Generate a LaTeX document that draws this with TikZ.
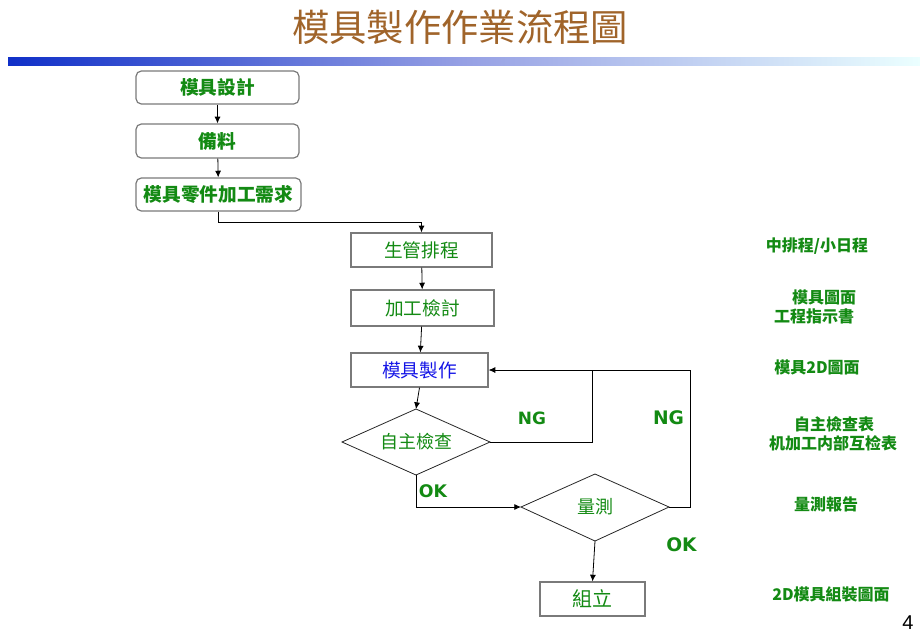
\documentclass[tikz,border=0pt]{standalone}
\usepackage{fontspec}
\setmainfont{DejaVu Sans}
\newfontfamily\cjk{Noto Sans CJK TC}
\newfontfamily\lat{DejaVu Sans}
\newfontfamily\numf{Liberation Sans}
\usetikzlibrary{shapes.geometric,arrows.meta}
\definecolor{tgreen}{HTML}{138A13}
\definecolor{tblue}{HTML}{1414E6}
\definecolor{tbrown}{HTML}{A0642A}
\definecolor{bordergray}{HTML}{7A7A7A}
\tikzset{
  rbox/.style={draw=bordergray, line width=0.9pt, rounded corners=4pt, inner sep=0pt, font=\cjk\fontsize{14}{16}\selectfont\bfseries, text=tgreen},
  sbox/.style={draw=bordergray, line width=0.9pt, inner sep=0pt, font=\cjk\fontsize{14}{16}\selectfont, text=tgreen},
  dtext/.style={inner sep=0pt, font=\cjk\fontsize{13.5}{16}\selectfont, text=tgreen},
  dline/.style={draw=black!85, line width=0.6pt},
  arr/.style={draw=black, line width=0.6pt, -{Latex[length=5pt,width=4.5pt]}},
  lnk/.style={draw=black, line width=0.6pt},
  side/.style={font=\cjk\fontsize{12}{14.5}\selectfont\bfseries, text=tgreen, align=center},
  ngok/.style={font=\lat\bfseries, text=tgreen}
}
\begin{document}
\begin{tikzpicture}[x=0.75pt,y=-0.75pt]
\useasboundingbox (0,0) rectangle (920,637);
% title
\node[font=\cjk\fontsize{28}{32}\selectfont, text=tbrown] (title) at (460,27) {模具製作作業流程圖};
% gradient bar
\shade[left color={rgb,255:red,16;green,48;blue,200}, right color={rgb,255:red,235;green,255;blue,255}, middle color={rgb,255:red,150;green,160;blue,228}] (8,57) rectangle (920,65);
% boxes
\node[rbox, minimum width=122.25pt, minimum height=24.75pt] (b1) at (217.5,87.5) {模具設計};
\node[rbox, minimum width=122.25pt, minimum height=25.5pt] (b2) at (217.5,141) {備料};
\node[rbox, minimum width=123.75pt, minimum height=24.75pt] (b3) at (218.5,194.5) {模具零件加工需求};
\node[sbox, minimum width=105.75pt, minimum height=25.5pt] (b4) at (421.5,250) {生管排程};
\node[sbox, minimum width=107.25pt, minimum height=27pt] (b5) at (422.5,308) {加工檢討};
\node[sbox, minimum width=102.75pt, minimum height=25.5pt, text=tblue] (b6) at (419.5,370) {模具製作};
% diamond 1
\node[dtext] (d1) at (416,442) {自主檢查};
\coordinate (d1n) at (416,409);
\coordinate (d1e) at (490,442);
\coordinate (d1s) at (416,475);
\coordinate (d1w) at (342,442);
\draw[dline] (d1n) -- (d1e) -- (d1s) -- (d1w) -- cycle;
% diamond 2
\node[dtext] (d2) at (595,507) {量測};
\coordinate (d2n) at (595,474);
\coordinate (d2e) at (669,507);
\coordinate (d2s) at (595,541);
\coordinate (d2w) at (521,507);
\draw[dline] (d2n) -- (d2e) -- (d2s) -- (d2w) -- cycle;
\node[sbox, minimum width=78.75pt, minimum height=25.5pt, font=\cjk\fontsize{15}{17}\selectfont] (b7) at (592.5,599) {組立};
% connectors
\draw[arr] (b1) -- (b2);
\draw[arr] (b2) -- (b3);
\coordinate (k1) at (218.5,222);
\draw[arr] (b3.south) -- (k1) -| (b4.north);
\draw[arr] (b4) -- (b5);
\draw[arr] (b5) -- (b6);
\draw[arr] (b6.south) -- (d1n);
\coordinate (ng1) at (592,370);
\coordinate (ng2) at (690,370);
\draw[lnk] (d1e) -| (ng1);
\draw[lnk] (d2e) -| (ng2);
\draw[arr] (ng2) -- (b6.east);
\draw[arr] (d1s) |- (d2w);
\draw[arr] (d2s) -- (b7.north);
% NG / OK labels
\node[ngok, font=\lat\bfseries\fontsize{12.7}{14}\selectfont] (ngA) at (532,418) {NG};
\node[ngok, font=\lat\bfseries\fontsize{14}{16}\selectfont] (ngB) at (668.5,418) {NG};
\node[ngok, font=\lat\bfseries\fontsize{13}{15}\selectfont] (okA) at (433,491) {OK};
\node[ngok, font=\lat\bfseries\fontsize{14}{16}\selectfont] (okB) at (681.5,545) {OK};
% side notes
\node[side] (s1) at (817,246) {中排程/小日程};
\node[side] (s2) at (824,297) {模具圖面};
\node[side] (s3) at (814,316) {工程指示書};
\node[side] (s4) at (817,367) {模具2D圖面};
\node[side] (s5) at (834,424) {自主檢查表};
\node[side] (s6) at (833,443) {机加工内部互检表};
\node[side] (s7) at (826,504) {量測報告};
\node[side] (s8) at (831,594) {2D模具組裝圖面};
\node[font=\numf\fontsize{15}{17}\selectfont] (pg) at (908,623) {4};
\end{tikzpicture}
\end{document}
